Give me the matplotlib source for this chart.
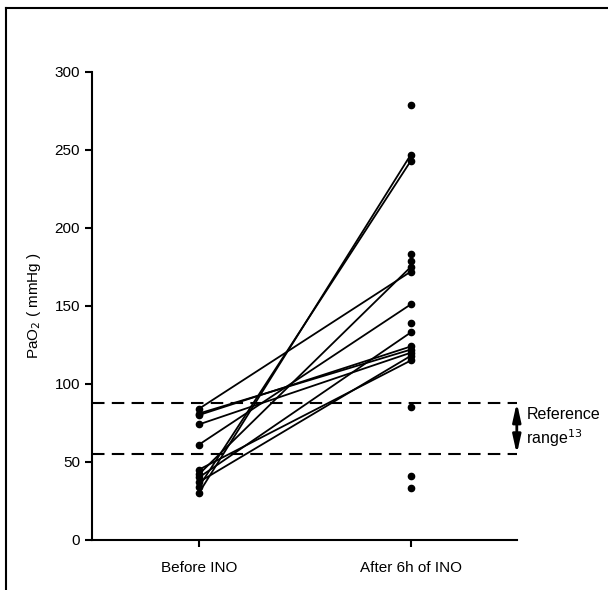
import matplotlib
matplotlib.use("Agg")
import matplotlib.pyplot as plt
from matplotlib.lines import Line2D

plt.rcParams['font.family'] = ['Liberation Sans', 'DejaVu Sans']

groups = ["Before INO", "After 6h of INO"]

# paired patients (before -> after)
before_paired = [84, 81, 80, 74, 61, 45, 42, 40, 37, 34, 30]
after_paired = [172, 122, 124, 120, 151, 115, 175, 133, 118, 243, 247]

# after values without a matching before value
after_only = [279, 183, 179, 139, 85, 41, 33]

ref_low = 55
ref_high = 88

fig = plt.figure(figsize=(6.08, 5.9), dpi=100)
ax = fig.add_axes([0.151, 0.085, 0.699, 0.793])

for b, a in zip(before_paired, after_paired):
    ax.plot([0, 1], [b, a], color='black', lw=1.3, zorder=2)

ax.plot([0] * len(before_paired), before_paired, 'o', color='black', ms=4.5, zorder=3)
ax.plot([1] * len(after_paired), after_paired, 'o', color='black', ms=4.5, zorder=3)
ax.plot([1] * len(after_only), after_only, 'o', color='black', ms=4.5, zorder=3)

for v in (ref_low, ref_high):
    ax.axhline(v, color='black', lw=1.5, ls=(0, (6, 3.5)), zorder=1, clip_on=False)

ax.annotate('', xy=(1.5, ref_low), xytext=(1.5, ref_high),
            arrowprops=dict(arrowstyle='<|-|>,head_length=0.9,head_width=0.2',
                            color='black', lw=2, mutation_scale=12,
                            shrinkA=0, shrinkB=0),
            annotation_clip=False)
ax.text(1.545, (ref_low + ref_high) / 2, 'Reference\nrange$^{13}$', fontsize=11.5,
        va='center', ha='left', linespacing=1.3)

ax.set_xlim(-0.505, 1.5)
ax.set_ylim(0, 300)
ax.set_xticks([0, 1])
ax.set_xticklabels(groups)
ax.set_yticks(range(0, 301, 50))
ax.tick_params(axis='y', labelsize=11, length=5, width=1.5, direction='out')
ax.tick_params(axis='x', labelsize=11, length=5, width=1.5, direction='out', pad=10)
ax.spines['top'].set_visible(False)
ax.spines['right'].set_visible(False)
ax.spines['left'].set_linewidth(1.5)
ax.spines['bottom'].set_linewidth(1.5)
ax.set_ylabel('PaO$_2$ ( mmHg )', fontsize=11, labelpad=8)

# border on the top and left of the figure
fig.add_artist(Line2D([6 / 608, 6 / 608], [0, 1 - 8 / 590], color='black', lw=1.5))
fig.add_artist(Line2D([6 / 608, 1], [1 - 8 / 590, 1 - 8 / 590], color='black', lw=1.5))

fig.savefig('out.png', dpi=100)
